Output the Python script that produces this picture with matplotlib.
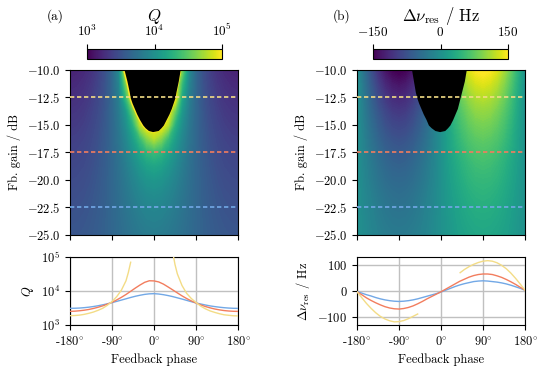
import numpy as np
import matplotlib
matplotlib.use("Agg")
import matplotlib.pyplot as plt
from matplotlib.colors import LogNorm, Normalize
from matplotlib.cm import ScalarMappable
from matplotlib.ticker import NullLocator, FixedLocator

plt.rcParams.update({
    "font.family": "serif",
    "font.serif": ["cmr10"],
    "mathtext.fontset": "cm",
    "axes.formatter.use_mathtext": True,
    "axes.unicode_minus": True,
    "font.size": 9,
    "axes.linewidth": 0.8,
})

# ---------------- heat-map data ----------------
map_phase = [-180, -165, -150, -135, -120, -105, -90, -75, -60, -45, -30, -15, 0,
             15, 30, 45, 60, 75, 90, 105, 120, 135, 150, 165, 180]
map_gain = [-10, -11.25, -12.5, -13.75, -15, -16.25, -17.5, -18.75, -20, -21.25, -22.5, -23.75, -25]

Q_map = [
    [1550, 1590, 1700, 1920, 2310, 3020, 4500, 8840, 100000, 100000, 100000, 100000, 100000, 100000, 100000, 100000, 40000, 8840, 4500, 3020, 2310, 1920, 1700, 1590, 1550],
    [1700, 1740, 1860, 2080, 2470, 3160, 4500, 7830, 40000, 100000, 100000, 100000, 100000, 100000, 100000, 100000, 22000, 7830, 4500, 3160, 2470, 2080, 1860, 1740, 1700],
    [1860, 1900, 2020, 2240, 2630, 3290, 4500, 7130, 22000, 100000, 100000, 100000, 100000, 100000, 100000, 100000, 15600, 7130, 4500, 3290, 2630, 2240, 2020, 1900, 1860],
    [2020, 2060, 2180, 2410, 2790, 3410, 4500, 6610, 11700, 34900, 100000, 100000, 100000, 100000, 100000, 34900, 11700, 6610, 4500, 3410, 2790, 2410, 2180, 2060, 2020],
    [2180, 2220, 2340, 2570, 2930, 3530, 4500, 6220, 9650, 18300, 59200, 100000, 100000, 100000, 59200, 18300, 9650, 6220, 4500, 3530, 2930, 2570, 2340, 2220, 2180],
    [2340, 2380, 2500, 2720, 3080, 3630, 4500, 5920, 8360, 12970, 22500, 41900, 59200, 41900, 22500, 12970, 8360, 5920, 4500, 3630, 3080, 2720, 2500, 2380, 2340],
    [2500, 2540, 2660, 2870, 3210, 3730, 4500, 5680, 7500, 10360, 14600, 19800, 22500, 19800, 14600, 10360, 7500, 5680, 4500, 3730, 3210, 2870, 2660, 2540, 2500],
    [2660, 2700, 2810, 3020, 3340, 3820, 4500, 5490, 6890, 8820, 11250, 13610, 14660, 13610, 11250, 8820, 6890, 5490, 4500, 3820, 3340, 3020, 2810, 2700, 2660],
    [2810, 2850, 2960, 3160, 3460, 3900, 4500, 5330, 6430, 7820, 9370, 10700, 11250, 10700, 9370, 7820, 6430, 5330, 4500, 3900, 3460, 3160, 2960, 2850, 2810],
    [2960, 3000, 3100, 3290, 3570, 3970, 4500, 5200, 6080, 7120, 8190, 9040, 9380, 9040, 8190, 7120, 6080, 5200, 4500, 3970, 3570, 3290, 3100, 3000, 2960],
    [3100, 3140, 3240, 3410, 3670, 4030, 4500, 5090, 5810, 6600, 7370, 7960, 8180, 7960, 7370, 6600, 5810, 5090, 4500, 4030, 3670, 3410, 3240, 3140, 3100],
    [3240, 3270, 3360, 3530, 3770, 4090, 4500, 5010, 5590, 6210, 6790, 7220, 7380, 7220, 6790, 6210, 5590, 5010, 4500, 4090, 3770, 3530, 3360, 3270, 3240],
    [3370, 3400, 3480, 3630, 3850, 4140, 4500, 4930, 5410, 5910, 6350, 6670, 6790, 6670, 6350, 5910, 5410, 4930, 4500, 4140, 3850, 3630, 3480, 3400, 3370],
]

dnu_map = [
    [0, -40, -78, -110, -135, -150, -156, -150, -135, -110, -78, -40, 0, 40, 78, 110, 135, 150, 156, 150, 135, 110, 78, 40, 0],
    [0, -35, -67, -95, -117, -130, -135, -130, -117, -95, -67, -35, 0, 35, 67, 95, 117, 130, 135, 130, 117, 95, 67, 35, 0],
    [0, -30, -58, -83, -101, -113, -117, -113, -101, -83, -58, -30, 0, 30, 58, 83, 101, 113, 117, 113, 101, 83, 58, 30, 0],
    [0, -26, -51, -71, -87, -98, -101, -98, -87, -71, -51, -26, 0, 26, 51, 71, 87, 98, 101, 98, 87, 71, 51, 26, 0],
    [0, -23, -44, -62, -76, -85, -88, -85, -76, -62, -44, -23, 0, 23, 44, 62, 76, 85, 88, 85, 76, 62, 44, 23, 0],
    [0, -20, -38, -54, -66, -73, -76, -73, -66, -54, -38, -20, 0, 20, 38, 54, 66, 73, 76, 73, 66, 54, 38, 20, 0],
    [0, -17, -33, -46, -57, -63, -66, -63, -57, -46, -33, -17, 0, 17, 33, 46, 57, 63, 66, 63, 57, 46, 33, 17, 0],
    [0, -15, -28, -40, -49, -55, -57, -55, -49, -40, -28, -15, 0, 15, 28, 40, 49, 55, 57, 55, 49, 40, 28, 15, 0],
    [0, -13, -25, -35, -43, -48, -49, -48, -43, -35, -25, -13, 0, 13, 25, 35, 43, 48, 49, 48, 43, 35, 25, 13, 0],
    [0, -11, -21, -30, -37, -41, -43, -41, -37, -30, -21, -11, 0, 11, 21, 30, 37, 41, 43, 41, 37, 30, 21, 11, 0],
    [0, -10, -18, -26, -32, -36, -37, -36, -32, -26, -18, -10, 0, 10, 18, 26, 32, 36, 37, 36, 32, 26, 18, 10, 0],
    [0, -8, -16, -23, -28, -31, -32, -31, -28, -23, -16, -8, 0, 8, 16, 23, 28, 31, 32, 31, 28, 23, 16, 8, 0],
    [0, -7, -14, -20, -24, -27, -28, -27, -24, -20, -14, -7, 0, 7, 14, 20, 24, 27, 28, 27, 24, 20, 14, 7, 0],
]

# unstable (black) region boundaries: gain, left phase edge, right phase edge
unst_gain = [-10, -11, -12, -12.5, -13, -13.5, -14, -14.5, -15, -15.25, -15.5, -15.6]
unstQ_left = [-64, -58, -53, -51, -47, -42, -37, -31, -24, -19, -12, -3]
unstQ_right = [56, 52, 47, 45, 41, 37, 32, 26, 20, 15, 9, -3]
unstN_left = [-63, -59, -55, -52, -48, -43, -38, -32, -27, -21, -13, -3]
unstN_right = [54, 50, 44, 41, 38, 35, 30, 25, 19, 14, 8, -3]

cut_gains = [-12.5, -17.5, -22.5]
cut_colors = ["#f3dc86", "#f27d5e", "#72a8e6"]

# ---------------- line cuts ----------------
line_phase = list(range(-180, 181, 10))
Q_blue = [3100, 3110, 3150, 3230, 3340, 3490, 3680, 3920, 4200, 4550, 4950, 5400, 5900, 6450,
          7000, 7500, 7950, 8250, 8350, 8150, 7800, 7350, 6850, 6300, 5800, 5300, 4850, 4450,
          4150, 3880, 3650, 3480, 3340, 3230, 3150, 3100, 3080]
Q_red = [2520, 2550, 2620, 2720, 2860, 3060, 3320, 3650, 4100, 4650, 5450, 6500, 7900, 9800,
         12200, 15000, 18000, 20000, 19800, 18500, 16000, 13200, 10800, 8800, 7200, 6000, 5100,
         4450, 3900, 3500, 3200, 2960, 2790, 2660, 2580, 2530, 2510]
yel_phase = [-180, -170, -160, -150, -140, -130, -120, -110, -100, -90, -80, -70, -60, -55, -50,
             np.nan, 42, 45, 50, 60, 70, 80, 90, 100, 110, 120, 130, 140, 150, 160, 170, 180]
Q_yel = [1880, 1900, 1950, 2050, 2200, 2400, 2700, 3100, 3800, 4900, 6800, 10500, 20000, 35000, 70000,
         np.nan, 100000, 60000, 32000, 14500, 8500, 6000, 4600, 3600, 3000, 2600, 2350, 2150, 2000,
         1930, 1870, 1850]

dnu_blue = [-2, -8, -14, -19, -25, -30, -34, -37, -39, -40, -39, -37, -34, -30, -25, -20, -15, -10,
            -4, 3, 10, 17, 23, 28, 32, 36, 38, 39, 38, 36, 34, 31, 27, 22, 16, 10, 3]
dnu_red = [-3, -14, -26, -36, -45, -53, -60, -65, -68, -69, -67, -63, -57, -49, -40, -30, -21, -12,
           -3, 7, 17, 27, 37, 45, 53, 59, 63, 65, 65, 63, 58, 52, 44, 35, 25, 14, 3]
yel_phase_n = [-180, -170, -160, -150, -140, -130, -120, -110, -100, -90, -80, -70, -60, -50,
               np.nan, 41, 50, 60, 70, 80, 90, 100, 110, 120, 130, 140, 150, 160, 170, 180]
dnu_yel = [-3, -25, -47, -66, -83, -97, -107, -114, -118, -117, -113, -106, -97, -88,
           np.nan, 70, 82, 93, 102, 109, 114, 116, 114, 108, 98, 85, 68, 48, 26, 3]

phase_ticks = [-180, -90, 0, 90, 180]
phase_labels = ["-180$\\!^\\circ$", "-90$\\!^\\circ$", "0$\\!^\\circ$", "90$\\!^\\circ$", "180$\\!^\\circ$"]

# ---------------- figure ----------------
W, H = 547, 373
fig = plt.figure(figsize=(W / 100, H / 100), dpi=100)


def ax_px(x0, y0, x1, y1):
    return fig.add_axes([x0 / W, 1 - y1 / H, (x1 - x0) / W, (y1 - y0) / H])


axA = ax_px(70, 70, 238, 235)
axB = ax_px(357, 70, 525, 235)
axC = ax_px(70, 257, 238, 325)
axD = ax_px(357, 257, 525, 325)
caxA = ax_px(87, 49, 222, 59)
caxB = ax_px(373, 49, 508, 59)

cmap = plt.get_cmap("viridis")
qnorm = LogNorm(1e3, 1e5)
nnorm = Normalize(-150, 150)

axA.contourf(map_phase, map_gain, np.log10(np.array(Q_map, float)),
             levels=np.linspace(3, 5, 121), cmap=cmap, extend="both", zorder=1)
axB.contourf(map_phase, map_gain, np.array(dnu_map, float),
             levels=np.linspace(-150, 150, 121), cmap=cmap, extend="both", zorder=1)

axA.plot(unstQ_left, unst_gain, color="#fde725", lw=1.6, zorder=1.5, solid_capstyle="butt")
axA.plot(unstQ_right, unst_gain, color="#fde725", lw=1.6, zorder=1.5, solid_capstyle="butt")
axA.fill_betweenx(unst_gain, unstQ_left, unstQ_right, color="black", lw=0, zorder=2)
axB.fill_betweenx(unst_gain, unstN_left, unstN_right, color="black", lw=0, zorder=2)

for ax in (axA, axB):
    for g, c in zip(cut_gains, cut_colors):
        ax.axhline(g, color=c, lw=1.2, ls=(0, (2.6, 1.6)), zorder=3)
    ax.set_xlim(-180, 180)
    ax.set_ylim(-25, -10)
    ax.set_xticks(phase_ticks)
    ax.set_xticklabels([])
    ax.set_yticks([-10, -12.5, -15, -17.5, -20, -22.5, -25])
    ax.set_ylabel("Fb. gain / dB")
    ax.tick_params(direction="out", length=3.5, width=0.8)

# colorbars
cbA = fig.colorbar(ScalarMappable(norm=qnorm, cmap=cmap), cax=caxA, orientation="horizontal")
cbB = fig.colorbar(ScalarMappable(norm=nnorm, cmap=cmap), cax=caxB, orientation="horizontal")
cbA.set_ticks([1e3, 1e4, 1e5])
caxA.xaxis.set_minor_locator(NullLocator())
cbB.set_ticks([-150, 0, 150])
for cax, cb in ((caxA, cbA), (caxB, cbB)):
    cax.xaxis.set_ticks_position("top")
    cax.xaxis.set_label_position("top")
    cax.tick_params(direction="out", length=3.5, width=0.8, labelsize=9.5)
    cb.outline.set_linewidth(0.8)

fig.text(55 / W, 1 - 16 / H, "(a)", ha="center", va="center", fontsize=9.5)
fig.text(154.5 / W, 1 - 16 / H, "$Q$", ha="center", va="center", fontsize=12)
fig.text(342 / W, 1 - 16 / H, "(b)", ha="center", va="center", fontsize=9.5)
fig.text(441 / W, 1 - 16 / H, "$\\Delta\\nu_\\mathrm{res}$ / Hz", ha="center", va="center", fontsize=12)

# line plots
axC.plot(line_phase, Q_blue, color=cut_colors[2], lw=1.0, zorder=3)
axC.plot(line_phase, Q_red, color=cut_colors[1], lw=1.0, zorder=3)
axC.plot(yel_phase, Q_yel, color=cut_colors[0], lw=1.0, zorder=3)
axC.set_yscale("log")
axC.set_ylim(1e3, 1e5)
axC.yaxis.set_major_locator(FixedLocator([1e3, 1e4, 1e5]))
axC.yaxis.set_minor_locator(NullLocator())
axC.set_ylabel("$Q$")

axD.plot(line_phase, dnu_blue, color=cut_colors[2], lw=1.0, zorder=3)
axD.plot(line_phase, dnu_red, color=cut_colors[1], lw=1.0, zorder=3)
axD.plot(yel_phase_n, dnu_yel, color=cut_colors[0], lw=1.0, zorder=3)
axD.set_ylim(-130, 130)
axD.set_yticks([-100, 0, 100])
axD.set_ylabel("$\\Delta\\nu_\\mathrm{res}$ / Hz")

for ax in (axC, axD):
    ax.set_xlim(-180, 180)
    ax.set_xticks(phase_ticks)
    ax.set_xticklabels(phase_labels)
    ax.set_xlabel("Feedback phase")
    ax.grid(True, color="#c0c0c0", lw=1.0)
    ax.set_axisbelow(True)
    ax.tick_params(direction="out", length=3.5, width=0.8)

fig.savefig("out.png", dpi=100)
